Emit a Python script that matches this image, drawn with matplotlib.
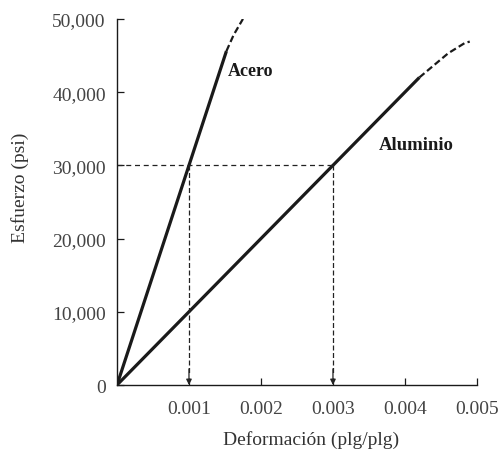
import matplotlib
matplotlib.use("Agg")
import matplotlib.pyplot as plt

plt.rcParams['font.family'] = ['Liberation Serif', 'DejaVu Serif']

# Data
steel_solid_x = [0.0, 0.001, 0.00152]
steel_solid_y = [0, 30000, 45600]
steel_dash_x = [0.00152, 0.00162, 0.00175]
steel_dash_y = [45600, 47800, 50000]

alu_solid_x = [0.0, 0.003, 0.0042]
alu_solid_y = [0, 30000, 42000]
alu_dash_x = [0.0042, 0.0046, 0.00483, 0.0049]
alu_dash_y = [42000, 45300, 46700, 46900]

ref_stress = 30000
ref_strain_steel = 0.001
ref_strain_alu = 0.003

yticks = [0, 10000, 20000, 30000, 40000, 50000]
ytick_labels = ['0', '10,000', '20,000', '30,000', '40,000', '50,000']
xticks = [0.001, 0.002, 0.003, 0.004, 0.005]
xtick_labels = ['0.001', '0.002', '0.003', '0.004', '0.005']

fig = plt.figure(figsize=(5.01, 4.52), dpi=100)
ax = fig.add_axes([0.2335, 0.146, 0.952 - 0.2335, 0.956 - 0.146])

# Curves
ax.plot(steel_solid_x, steel_solid_y, color='#1a1a1a', lw=2.3, solid_capstyle='butt')
ax.plot(steel_dash_x, steel_dash_y, color='#1a1a1a', lw=1.6, ls=(0, (3, 1.5)))
ax.plot(alu_solid_x, alu_solid_y, color='#1a1a1a', lw=2.3, solid_capstyle='butt')
ax.plot(alu_dash_x, alu_dash_y, color='#1a1a1a', lw=1.6, ls=(0, (3, 1.5)))

# Reference dashed lines
ax.plot([0, ref_strain_alu], [ref_stress, ref_stress], color='#222222', lw=0.9, ls=(0, (4, 3)))
for xs in (ref_strain_steel, ref_strain_alu):
    ax.plot([xs, xs], [ref_stress, 1500], color='#222222', lw=0.9, ls=(0, (4, 2)))
    ax.annotate('', xy=(xs, 0), xytext=(xs, 2200),
                arrowprops=dict(arrowstyle='-|>', color='#222222', lw=0.9,
                                mutation_scale=8, shrinkA=0, shrinkB=0))

# Labels
ax.text(0.00154, 42900, 'Acero', fontsize=13, fontweight='bold', va='center', ha='left', color='#1a1a1a')
ax.text(0.00363, 32900, 'Aluminio', fontsize=13.5, fontweight='bold', va='center', ha='left', color='#1a1a1a')

ax.set_xlim(0, 0.005)
ax.set_ylim(0, 50000)
ax.set_yticks(yticks)
ax.set_yticklabels(ytick_labels)
ax.set_xticks(xticks)
ax.set_xticklabels(xtick_labels)
ax.tick_params(axis='both', direction='in', length=5, width=0.9, labelsize=14,
               colors='#1a1a1a', labelcolor='#444444')
ax.tick_params(axis='y', pad=8)
ax.tick_params(axis='x', pad=11)

for s in ('top', 'right'):
    ax.spines[s].set_visible(False)
for s in ('left', 'bottom'):
    ax.spines[s].set_linewidth(1.0)
    ax.spines[s].set_color('#1a1a1a')

ax.set_xlabel('Deformación (plg/plg)', fontsize=14, color='#333333')
ax.set_ylabel('Esfuerzo (psi)', fontsize=14, color='#333333')
ax.xaxis.set_label_coords(0.539, -0.122)
ax.yaxis.set_label_coords(-0.245, 0.541)

fig.savefig('out.png', dpi=100)
